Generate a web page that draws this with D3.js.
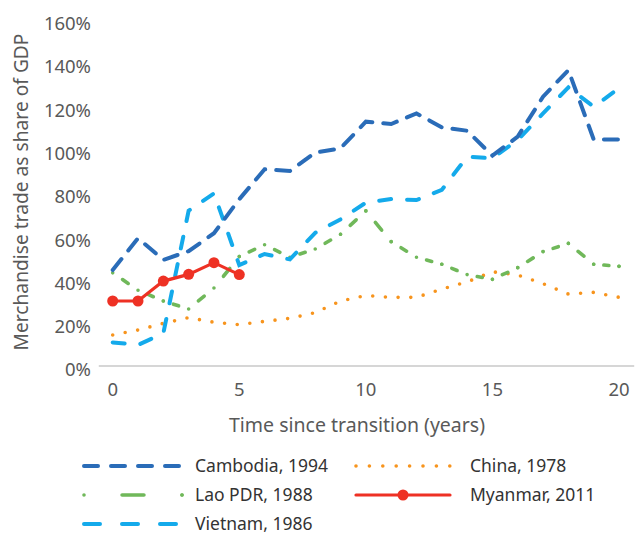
<!DOCTYPE html>
<html>
<head>
<meta charset="utf-8">
<script src="https://cdn.jsdelivr.net/npm/d3@7"></script>
<style>
  body { margin: 0; background: #fff; }
  text { font-family: "Noto Sans", sans-serif; }
</style>
</head>
<body>
<div id="chart"></div>
<script>
// data (share of GDP, %)
var years = [0, 1, 2, 3, 4, 5, 6, 7, 8, 9, 10, 11, 12, 13, 14, 15, 16, 17, 18, 19, 20];
var cambodia = [44.3, 59, 49, 53, 61.3, 77, 90.8, 90, 98.5, 100.5, 112.8, 111.7, 116.6, 110.2, 108.6, 97.1, 105.9, 124.3, 136.6, 104.6, 104.6];
var lao = [43, 35, 30, 26.3, 36, 50.5, 56, 50.2, 54, 60.8, 71.6, 57.4, 50.2, 47, 42.2, 40, 45.4, 52.8, 56.6, 47, 46];
var vietnam = [10.9, 9.7, 15.1, 71.7, 79.7, 46.6, 51.7, 49.2, 61.5, 67.7, 75.4, 77.1, 76.6, 81.3, 96.6, 95.9, 104.3, 116.6, 128.6, 119.7, 128.2];
var china = [14.3, 16.6, 19.7, 22.3, 20.2, 19.1, 20.6, 22, 24.6, 30, 32.5, 31.7, 31.7, 35.5, 38.8, 43.5, 42, 38, 33.2, 34, 31.7];
var myanmar = [30, 30, 39.2, 42.3, 47.7, 42.2];
var xTicks = [0, 5, 10, 15, 20];
var yTicks = [0, 20, 40, 60, 80, 100, 120, 140, 160];

var width = 636, height = 534;

var svg = d3.select("#chart").append("svg")
    .attr("width", width)
    .attr("height", height);

// scales
var x = d3.scaleLinear().domain([0, 20]).range([112.7, 619]);
var y = d3.scaleLinear().domain([0, 160]).range([366, 19.4]);

// baseline
svg.append("line")
    .attr("x1", x(-0.55)).attr("x2", x(20.6))
    .attr("y1", y(0)).attr("y2", y(0))
    .attr("stroke", "#c8c8c8")
    .attr("stroke-width", 1.5);

// y tick labels
svg.append("g").selectAll("text")
    .data(yTicks)
    .enter().append("text")
    .attr("x", 91)
    .attr("y", function(d) { return y(d) + 4; })
    .attr("dy", "0.35em")
    .attr("text-anchor", "end")
    .attr("fill", "#595959")
    .style("font-size", "18.5px")
    .text(function(d) { return d + "%"; });

// x tick labels
svg.append("g").selectAll("text")
    .data(xTicks)
    .enter().append("text")
    .attr("x", function(d) { return x(d); })
    .attr("y", 390)
    .attr("dy", "0.35em")
    .attr("text-anchor", "middle")
    .attr("fill", "#595959")
    .style("font-size", "18.5px")
    .text(function(d) { return d; });

// axis titles
svg.append("text")
    .attr("x", 357)
    .attr("y", 425)
    .attr("dy", "0.35em")
    .attr("text-anchor", "middle")
    .attr("fill", "#595959")
    .style("font-size", "19.5px")
    .text("Time since transition (years)");

svg.append("text")
    .attr("transform", "translate(21,192) rotate(-90)")
    .attr("dy", "0.35em")
    .attr("text-anchor", "middle")
    .attr("fill", "#595959")
    .style("font-size", "19.2px")
    .text("Merchandise trade as share of GDP");

var line = d3.line()
    .x(function(d) { return x(d[0]); })
    .y(function(d) { return y(d[1]); });

function pairs(vals) {
    return vals.map(function(v, i) { return [years[i], v]; });
}

// china dotted
svg.append("path")
    .datum(pairs(china))
    .attr("d", line)
    .attr("fill", "none")
    .attr("stroke", "#f7941d")
    .attr("stroke-width", 3.6)
    .attr("stroke-linecap", "round")
    .attr("stroke-dasharray", "0 12.7");

// lao: dot at each year, dash in the middle of each segment
function dotDash(x1, y1, x2, y2, sw, frac) {
    var L = Math.sqrt((x2 - x1) * (x2 - x1) + (y2 - y1) * (y2 - y1));
    var dash = Math.max(L * frac - sw, 0.1);
    var gap = (L - dash) / 2;
    return "0 " + gap + " " + dash + " " + gap;
}
var laoPts = pairs(lao);
svg.append("g").selectAll("line")
    .data(laoPts.slice(0, -1))
    .enter().append("line")
    .attr("x1", function(d) { return x(d[0]); })
    .attr("y1", function(d) { return y(d[1]); })
    .attr("x2", function(d, i) { return x(laoPts[i + 1][0]); })
    .attr("y2", function(d, i) { return y(laoPts[i + 1][1]); })
    .attr("stroke", "#70b85a")
    .attr("stroke-width", 3.6)
    .attr("stroke-linecap", "round")
    .attr("stroke-dasharray", function(d, i) {
        var p = laoPts[i + 1];
        return dotDash(x(d[0]), y(d[1]), x(p[0]), y(p[1]), 3.6, 0.34);
    });
// last dot
svg.append("circle")
    .attr("cx", x(20)).attr("cy", y(lao[20]))
    .attr("r", 1.8).attr("fill", "#70b85a");

// vietnam dashed
svg.append("path")
    .datum(pairs(vietnam))
    .attr("d", line)
    .attr("fill", "none")
    .attr("stroke", "#14aaeb")
    .attr("stroke-width", 4)
    .attr("stroke-linecap", "round")
    .attr("stroke-dasharray", "12 16");

// cambodia dashed
svg.append("path")
    .datum(pairs(cambodia))
    .attr("d", line)
    .attr("fill", "none")
    .attr("stroke", "#2a6cb8")
    .attr("stroke-width", 4)
    .attr("stroke-linecap", "round")
    .attr("stroke-dasharray", "14 11");

// myanmar
svg.append("path")
    .datum(pairs(myanmar))
    .attr("d", line)
    .attr("fill", "none")
    .attr("stroke", "#ee3124")
    .attr("stroke-width", 3.2);
svg.append("g").selectAll("circle")
    .data(pairs(myanmar))
    .enter().append("circle")
    .attr("cx", function(d) { return x(d[0]); })
    .attr("cy", function(d) { return y(d[1]); })
    .attr("r", 5.5)
    .attr("fill", "#ee3124");

// legend
var legend = svg.append("g");
var lx1 = 84, lx2 = 184, rx1 = 356, rx2 = 450;
function legText(xp, yp, t) {
    legend.append("text")
        .attr("x", xp).attr("y", yp)
        .attr("dy", "0.35em")
        .attr("fill", "#333")
        .style("font-size", "17.5px")
        .text(t);
}
// cambodia
legend.append("line").attr("x1", lx1).attr("x2", lx2).attr("y1", 466).attr("y2", 466)
    .attr("stroke", "#2a6cb8").attr("stroke-width", 4).attr("stroke-linecap", "round")
    .attr("stroke-dasharray", "14 13");
legText(195, 466, "Cambodia, 1994");
// lao
legend.append("line").attr("x1", lx1).attr("x2", lx2).attr("y1", 495).attr("y2", 495)
    .attr("stroke", "#70b85a").attr("stroke-width", 3.6).attr("stroke-linecap", "round")
    .attr("stroke-dasharray", dotDash(lx1, 0, lx2 - 2, 0, 3.6, 0.26));
legend.append("circle").attr("cx", lx2 - 2).attr("cy", 495).attr("r", 1.8).attr("fill", "#70b85a");
legText(195, 495, "Lao PDR, 1988");
// vietnam
legend.append("line").attr("x1", lx1).attr("x2", lx2).attr("y1", 524).attr("y2", 524)
    .attr("stroke", "#14aaeb").attr("stroke-width", 4).attr("stroke-linecap", "round")
    .attr("stroke-dasharray", "16 22");
legText(195, 524, "Vietnam, 1986");
// china
legend.append("line").attr("x1", rx1).attr("x2", rx2).attr("y1", 466).attr("y2", 466)
    .attr("stroke", "#f7941d").attr("stroke-width", 3.6).attr("stroke-linecap", "round")
    .attr("stroke-dasharray", "0 13.4");
legText(470, 466, "China, 1978");
// myanmar
legend.append("line").attr("x1", rx1).attr("x2", rx2).attr("y1", 495).attr("y2", 495)
    .attr("stroke", "#ee3124").attr("stroke-width", 3.2).attr("stroke-linecap", "round");
legend.append("circle").attr("cx", (rx1 + rx2) / 2).attr("cy", 495).attr("r", 5.5).attr("fill", "#ee3124");
legText(470, 495, "Myanmar, 2011");
</script>
</body>
</html>
